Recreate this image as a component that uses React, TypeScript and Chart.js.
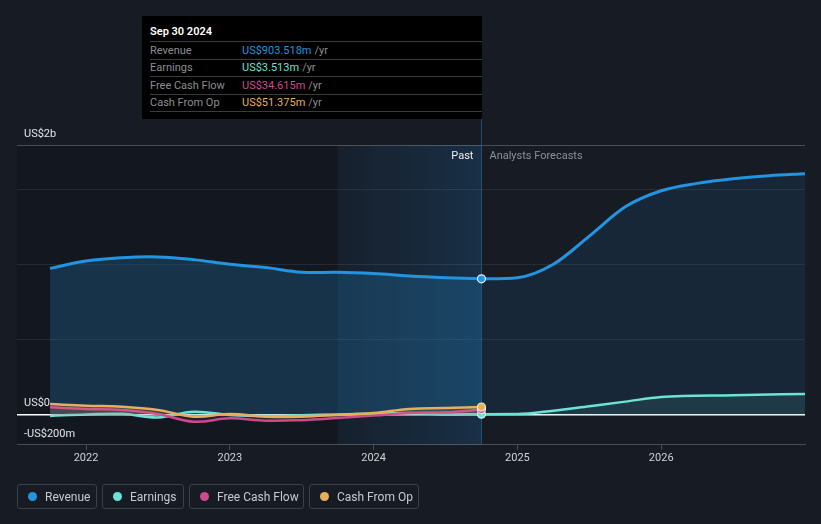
import React, { useEffect, useRef } from "react";
import { Chart, registerables } from "chart.js";

Chart.register(...registerables);

// ---------- data ----------
const pastYears = [2021.75, 2022.0, 2022.25, 2022.5, 2022.75, 2023.0, 2023.25, 2023.5, 2023.75, 2024.0, 2024.25, 2024.5, 2024.75];
const revenuePast = [973, 1022, 1044, 1049, 1031, 1000, 978, 947, 947, 938, 922, 911, 903.518];
const earningsPast = [-8, 2, 6, -18, 20, -2, -9, -4, 2, 6, 12, 2, 3.513];
const fcfPast = [49, 38, 31, 5, -47, -24, -40, -36, -22, -6, 12, 16, 34.615];
const cfoPast = [71, 60, 53, 31, -13, 5, -13, -13, -2, 11, 38, 44, 51.375];

const revenueFcYears = [2024.75, 2025.0, 2025.25, 2025.5, 2025.75, 2026.0, 2026.25, 2026.5, 2026.75, 2027.0];
const revenueFc = [903.518, 911, 1000, 1187, 1382, 1489, 1538, 1569, 1589, 1602];
const earningsFcYears = [2024.75, 2025.0, 2025.25, 2025.5, 2025.75, 2026.0, 2026.5, 2027.0];
const earningsFc = [3.513, 4, 27, 57, 87, 118, 130, 138];

const xTickYears = [2022, 2023, 2024, 2025, 2026];
const yTickValues = [-200, 0, 500, 1000, 1500, 1793];
const yTickLabels = ["-US$200m", "US$0", "", "", "", "US$2b"];

const X_MIN = 2021.52;
const X_MAX = 2027.0;
const PAST_END = 2024.75;
const HIGHLIGHT_START = 2023.75;

const tooltipTitle = "Sep 30 2024";
const tooltipLabels = ["Revenue", "Earnings", "Free Cash Flow", "Cash From Op"];
const tooltipValues = ["US$903.518m", "US$3.513m", "US$34.615m", "US$51.375m"];

const legendLabels = ["Revenue", "Earnings", "Free Cash Flow", "Cash From Op"];

// ---------- styles ----------
const COLORS = {
  revenue: "#2394df",
  earnings: "#6ce3d4",
  fcf: "#cc4a8c",
  cfo: "#e9ae5c",
};
const seriesColors = [COLORS.revenue, COLORS.earnings, COLORS.fcf, COLORS.cfo];
const FONT = "Roboto, 'Noto Sans', sans-serif";
const BG = "#161b24";

const pts = (xs: number[], ys: number[]) => xs.map((x, i) => ({ x, y: ys[i] }));
const rgba = (hex: string, a: number) => {
  const n = parseInt(hex.slice(1), 16);
  return `rgba(${(n >> 16) & 255},${(n >> 8) & 255},${n & 255},${a})`;
};
const lastOnly = (n: number, r: number) => (ctx: any) => (ctx.dataIndex === n - 1 ? r : 0);

const backgroundPlugin = {
  id: "pastBg",
  beforeDraw(chart: any) {
    const { ctx, chartArea, scales } = chart;
    const { left, top, bottom } = chartArea;
    const xEnd = scales.x.getPixelForValue(PAST_END);
    const xHl = scales.x.getPixelForValue(HIGHLIGHT_START);
    ctx.save();
    ctx.fillStyle = "rgba(0,0,0,0.13)";
    ctx.fillRect(left, top, xHl - left, bottom - top);
    const g = ctx.createLinearGradient(xHl, 0, xEnd, 0);
    g.addColorStop(0, "rgba(35,120,190,0.06)");
    g.addColorStop(1, "rgba(35,120,190,0.22)");
    ctx.fillStyle = g;
    ctx.fillRect(xHl, top, xEnd - xHl, bottom - top);
    ctx.restore();
  },
  beforeDatasetsDraw(chart: any) {
    const { ctx, chartArea, scales } = chart;
    const xEnd = Math.round(scales.x.getPixelForValue(PAST_END)) + 0.5;
    ctx.save();
    ctx.strokeStyle = "rgba(40,95,140,0.75)";
    ctx.lineWidth = 1;
    ctx.beginPath();
    ctx.moveTo(xEnd, 119);
    ctx.lineTo(xEnd, chartArea.bottom);
    ctx.stroke();
    ctx.restore();
  },
  afterDraw(chart: any) {
    const { ctx, chartArea, scales } = chart;
    const xEnd = scales.x.getPixelForValue(PAST_END);
    const y = chartArea.top + 11;
    ctx.save();
    ctx.font = `11px ${FONT}`;
    ctx.textBaseline = "middle";
    ctx.textAlign = "right";
    ctx.fillStyle = "#eeeeee";
    ctx.fillText("Past", xEnd - 8, y);
    ctx.textAlign = "left";
    ctx.fillStyle = "#8b9099";
    ctx.fillText("Analysts Forecasts", xEnd + 8, y);
    ctx.restore();
  },
};

export default function App() {
  const canvasRef = useRef<HTMLCanvasElement | null>(null);

  useEffect(() => {
    if (!canvasRef.current) return;
    const n = pastYears.length;
    const pastDs = (label: string, ys: number[], color: string) => ({
      label,
      data: pts(pastYears, ys),
      borderColor: color,
      backgroundColor: rgba(color, 0.14),
      borderWidth: 2.5,
      fill: "origin",
      tension: 0.4,
      pointRadius: lastOnly(n, 4),
      pointHoverRadius: 0,
      pointBackgroundColor: color,
      pointBorderColor: "rgba(255,255,255,0.85)",
      pointBorderWidth: 1.2,
    });

    const chart = new Chart(canvasRef.current, {
      type: "line",
      data: {
        datasets: [
          pastDs("Cash From Op", cfoPast, COLORS.cfo),
          pastDs("Free Cash Flow", fcfPast, COLORS.fcf),
          pastDs("Earnings", earningsPast, COLORS.earnings),
          {
            label: "Earnings forecast",
            data: pts(earningsFcYears, earningsFc),
            borderColor: COLORS.earnings,
            backgroundColor: rgba(COLORS.earnings, 0.1),
            borderWidth: 2.5,
            fill: "origin",
            cubicInterpolationMode: "monotone",
            pointRadius: 0,
          },
          {
            label: "Revenue",
            data: pts(pastYears, revenuePast),
            borderColor: COLORS.revenue,
            backgroundColor: rgba(COLORS.revenue, 0.22),
            borderWidth: 3,
            fill: "origin",
            tension: 0.4,
            pointRadius: lastOnly(n, 4),
            pointBackgroundColor: COLORS.revenue,
            pointBorderColor: "rgba(255,255,255,0.9)",
            pointBorderWidth: 1.2,
          },
          {
            label: "Revenue forecast",
            data: pts(revenueFcYears, revenueFc),
            borderColor: COLORS.revenue,
            backgroundColor: rgba(COLORS.revenue, 0.1),
            borderWidth: 3,
            fill: "origin",
            cubicInterpolationMode: "monotone",
            pointRadius: 0,
          },
        ] as any,
      },
      options: {
        responsive: false,
        animation: false,
        events: [],
        layout: { padding: { left: 3, right: 16, top: 145, bottom: 57 } },
        plugins: { legend: { display: false }, tooltip: { enabled: false } },
        scales: {
          x: {
            type: "linear",
            min: X_MIN,
            max: X_MAX,
            afterBuildTicks: (scale: any) => {
              scale.ticks = xTickYears.map((v) => ({ value: v }));
            },
            ticks: {
              callback: (v: any) => String(v),
              color: "#d0d2d6",
              font: { family: FONT, size: 11 },
              padding: 2,
              autoSkip: false,
              maxRotation: 0,
            },
            grid: {
              drawOnChartArea: false,
              drawTicks: true,
              tickLength: 5,
              color: "rgba(255,255,255,0.22)",
            },
            border: { display: true, color: "rgba(255,255,255,0.22)", width: 1 },
          },
          y: {
            type: "linear",
            min: yTickValues[0],
            max: yTickValues[yTickValues.length - 1],
            afterBuildTicks: (scale: any) => {
              scale.ticks = yTickValues.map((v) => ({ value: v }));
            },
            ticks: {
              mirror: true,
              padding: 7,
              labelOffset: -11,
              autoSkip: false,
              color: "#e4e4e6",
              font: { family: FONT, size: 11 },
              callback: (v: any) => {
                const i = yTickValues.indexOf(Number(v));
                return i >= 0 ? yTickLabels[i] : "";
              },
            },
            grid: {
              drawTicks: false,
              color: (ctx: any) => {
                const v = ctx.tick?.value;
                if (v === 0) return "#ffffff";
                if (v === yTickValues[yTickValues.length - 1]) return "rgba(255,255,255,0.22)";
                if (v === yTickValues[0]) return "rgba(0,0,0,0)";
                return "rgba(255,255,255,0.08)";
              },
              lineWidth: (ctx: any) => (ctx.tick?.value === 0 ? 1.5 : 1),
            },
            border: { display: false },
          },
        },
      } as any,
      plugins: [backgroundPlugin],
    });
    return () => chart.destroy();
  }, []);

  const legendBoxes = [
    { left: 17, width: 80 },
    { left: 102, width: 82 },
    { left: 189, width: 115 },
    { left: 309, width: 110 },
  ];

  return (
    <div
      style={{
        position: "absolute",
        left: 0,
        top: 0,
        width: 821,
        height: 524,
        background: BG,
        overflow: "hidden",
        fontFamily: FONT,
      }}
    >
      <canvas ref={canvasRef} width={821} height={524} style={{ display: "block", position: "absolute", left: 0, top: 0 }} />

      {/* tooltip box */}
      <div
        style={{
          position: "absolute",
          left: 142,
          top: 16,
          width: 340,
          height: 103,
          background: "#000",
          fontSize: 11,
          lineHeight: "13px",
        }}
      >
        <div style={{ position: "absolute", left: 8, top: 9, color: "#fff", fontWeight: 600 }}>{tooltipTitle}</div>
        {tooltipLabels.map((lab, i) => (
          <div
            key={lab}
            style={{
              position: "absolute",
              left: 8,
              right: 0,
              top: 25 + i * 17.5,
              height: 17.5,
              borderTop: "1px solid #3a3b40",
              display: "flex",
              alignItems: "center",
              boxSizing: "border-box",
            }}
          >
            <span style={{ width: 92, color: "#8c8d93" }}>{lab}</span>
            <span style={{ color: seriesColors[i] }}>{tooltipValues[i]}</span>
            <span style={{ color: "#8c8d93", marginLeft: 3 }}>/yr</span>
          </div>
        ))}
        <div style={{ position: "absolute", left: 8, right: 0, top: 95, borderTop: "1px solid #3a3b40" }} />
      </div>

      {/* legend */}
      {legendLabels.map((lab, i) => (
        <div
          key={lab}
          style={{
            position: "absolute",
            left: legendBoxes[i].left,
            top: 484,
            width: legendBoxes[i].width,
            height: 25,
            boxSizing: "border-box",
            border: "1px solid #3b404a",
            borderRadius: 3,
            display: "flex",
            alignItems: "center",
            paddingLeft: 10,
            fontSize: 12,
            color: "#c8cace",
            whiteSpace: "nowrap",
          }}
        >
          <span
            style={{
              width: 9,
              height: 9,
              borderRadius: "50%",
              background: seriesColors[i],
              marginRight: 8,
              flex: "0 0 auto",
            }}
          />
          {lab}
        </div>
      ))}
    </div>
  );
}
